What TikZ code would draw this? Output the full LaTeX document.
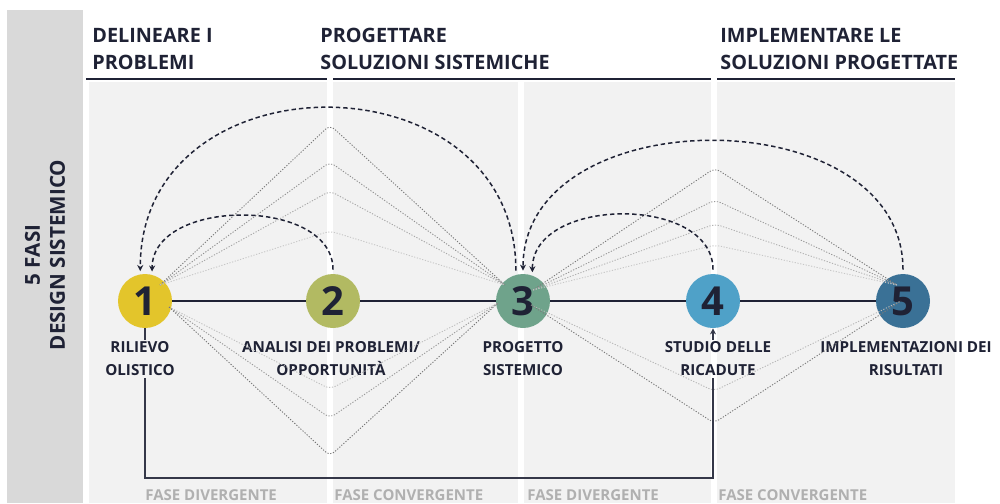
\documentclass[tikz,border=0pt]{standalone}
\usepackage{fontspec}
\setmainfont{Open Sans}
\usetikzlibrary{positioning,arrows.meta,calc}
\definecolor{ink}{HTML}{1F2235}
\definecolor{panel}{HTML}{F2F2F2}
\definecolor{sidebar}{HTML}{D9D9D9}
\definecolor{fasegrey}{HTML}{B0B0B0}
\definecolor{phaseA}{HTML}{E3C52B}
\definecolor{phaseB}{HTML}{B2BA62}
\definecolor{phaseC}{HTML}{6FA38B}
\definecolor{phaseD}{HTML}{4FA1C8}
\definecolor{phaseE}{HTML}{3A7196}
\tikzstyle{loop} = [ink, line width=0.75pt, dash pattern=on 2.2pt off 1.5pt, -{Stealth[length=3pt,width=3pt]}, shorten <=2pt, shorten >=1.5pt]
\tikzstyle{fb} = [ink!90, line width=0.8pt]

\begin{document}
\begin{tikzpicture}[x=0.5pt,y=-0.5pt,
  phase/.style={circle, minimum size=27pt, inner sep=0pt, text=ink, font=\fontsize{20}{20}\selectfont\bfseries},
  lab/.style={align=center, inner sep=1pt, text=ink, font=\fontsize{7.6}{11.5}\selectfont\bfseries},
  head/.style={anchor=north west, align=left, inner sep=0pt, text=ink, font=\fontsize{9.9}{13.5}\selectfont\bfseries},
  fase/.style={anchor=base west, inner sep=0pt, text=fasegrey, font=\fontsize{7.5}{9}\selectfont\bfseries},
  fan/.style={line width=0.45pt, dash pattern=on 0.6pt off 0.8pt, rounded corners=3pt}]

\useasboundingbox (0,0) rectangle (1000,503);

% background
\fill[sidebar] (7,10) rectangle (83,503);
\fill[panel] (89,82) rectangle (955,503);
\fill[white] (327,76) rectangle (333,503);
\fill[white] (518,82) rectangle (524,503);
\fill[white] (711,76) rectangle (717,503);

\node[rotate=90, align=center, inner sep=0pt, text=ink, font=\fontsize{10.3}{12.5}\selectfont\bfseries] (title) at (45,255) {5 FASI\\DESIGN SISTEMICO};

% headers
\node[head] (h1) at (92,28) {DELINEARE I\\PROBLEMI};
\node[head] (h2) at (320,28) {PROGETTARE\\SOLUZIONI SISTEMICHE};
\node[head] (h3) at (720,28) {IMPLEMENTARE LE\\SOLUZIONI PROGETTATE};
\draw[ink, line width=1pt] (86,79) -- (327,79) (333,79) -- (711,79) (717,79) -- (955,79);

% phases
\node[phase, fill=phaseA] (n1) at (145,301) {1};
\node[phase, fill=phaseB] (n2) at (333,301) {2};
\node[phase, fill=phaseC] (n3) at (523,301) {3};
\node[phase, fill=phaseD] (n4) at (713,301) {4};
\node[phase, fill=phaseE] (n5) at (903,301) {5};
\draw[ink, line width=1pt] (n1) -- (n2) (n2) -- (n3) (n3) -- (n4) (n4) -- (n5);

\node[lab] (l1) at (140,359) {RILIEVO\\OLISTICO};
\node[lab] (l2) at (331,359) {ANALISI DEI PROBLEMI/\\OPPORTUNITÀ};
\node[lab] (l3) at (523,359) {PROGETTO\\SISTEMICO};
\node[lab] (l4) at (718,359) {STUDIO DELLE\\RICADUTE};
\node[lab] (l5) at (906,359) {IMPLEMENTAZIONI DEI\\RISULTATI};

% fans
\coordinate (a1) at ($(n1)+(15,-16)$);
\coordinate (b1) at ($(n1)+(24,6)$);
\coordinate (a3) at ($(n3)+(-18,-16)$);
\coordinate (b3) at ($(n3)+(-25,2)$);
\coordinate (c3) at ($(n3)+(10,-11)$);
\coordinate (d3) at ($(n3)+(8,4)$);
\coordinate (c5) at ($(n5)+(-6,-16)$);
\coordinate (d5) at ($(n5)+(-2,0)$);
\foreach \py/\g in {125/52,162/44,191/34,231/22}
  \draw[fan, black!\g] (a1) -- (330,\py) -- (a3);
\foreach \py/\g in {389/25,418/40,456/54}
  \draw[fan, black!\g] (b1) -- (330,\py) -- (b3);
\foreach \py/\g in {168/52,200/40,224/30,245/22}
  \draw[fan, black!\g] (c3) -- (715,\py) -- (c5);
\foreach \py/\g in {391/28,423/52}
  \draw[fan, black!\g] (d3) -- (714,\py) -- (d5);

% loops back
\draw[loop] (n3.105) .. controls +(0,-221) and +(0,-221) .. (n1.100);
\draw[loop] (n2.90) .. controls +(0,-77) and +(0,-77) .. (n1.75);
\draw[loop] (n5.90) .. controls +(0,-176) and +(0,-176) .. (n3.90);
\draw[loop] (n4.90) .. controls +(0,-79) and +(0,-79) .. (n3.70);

% feedback
\coordinate (fbot) at (145,478);
\draw[fb] (n1.south) -- (n1.south |- l1.north);
\draw[fb] (n1.south |- l1.south) -- (fbot) -| (l4.south -| n4);
\draw[fb, -{Stealth[length=3pt,width=3pt]}] (l4.north -| n4) -- (n4.south);

\node[fase] (f1) at (145,500) {FASE DIVERGENTE};
\node[fase] (f2) at (334,500) {FASE CONVERGENTE};
\node[fase] (f3) at (527,500) {FASE DIVERGENTE};
\node[fase] (f4) at (718,500) {FASE CONVERGENTE};
\end{tikzpicture}
\end{document}
